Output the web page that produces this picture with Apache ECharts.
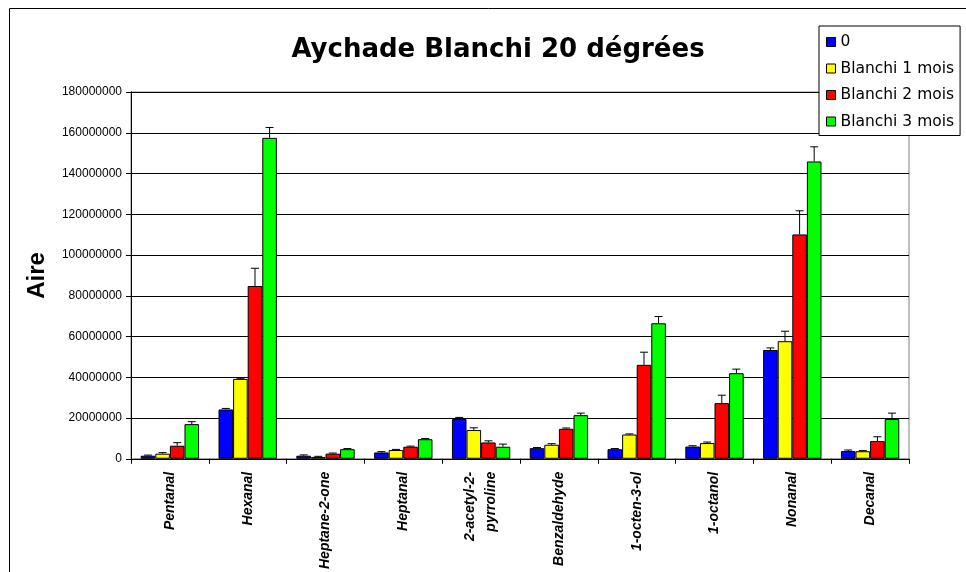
<!DOCTYPE html>
<html>
<head>
<meta charset="utf-8">
<script src="https://cdn.jsdelivr.net/npm/echarts@6/dist/echarts.min.js"></script>
<style>
  html, body { margin: 0; padding: 0; background: #fff; }
  #chart { width: 966px; height: 572px; }
</style>
</head>
<body>
<div id="chart"></div>
<script>
// categories and values
var categories = ['Pentanal', 'Hexanal', 'Heptane-2-one', 'Heptanal', '2-acetyl-2-\npyrroline',
  'Benzaldehyde', '1-octen-3-ol', '1-octanol', 'Nonanal', 'Decanal']
var seriesNames = ['0', 'Blanchi 1 mois', 'Blanchi 2 mois', 'Blanchi 3 mois']
var colors = ['#0000FF', '#FFFF00', '#FF0000', '#00FF00']

var s0 = [1500000, 24200000, 1500000, 3100000, 19500000, 5200000, 4700000, 6000000, 53400000, 3800000]
var s1 = [2500000, 39200000, 900000, 4300000, 14100000, 6900000, 11900000, 7700000, 57700000, 3700000]
var s2 = [6400000, 84800000, 2500000, 5900000, 8000000, 14700000, 46100000, 27300000, 110100000, 8700000]
var s3 = [17000000, 157500000, 4700000, 9600000, 5900000, 21400000, 66500000, 42000000, 145900000, 19500000]

// upper error bars
var e0 = [300000, 500000, 400000, 400000, 800000, 300000, 300000, 400000, 1000000, 500000]
var e1 = [500000, 300000, 300000, 300000, 1100000, 500000, 300000, 500000, 4900000, 300000]
var e2 = [1500000, 8700000, 300000, 300000, 800000, 400000, 6200000, 3900000, 11600000, 2100000]
var e3 = [1200000, 5100000, 300000, 300000, 1300000, 1000000, 3300000, 2000000, 7200000, 2900000]

var yTicks = { min: 0, max: 180000000, step: 20000000 }

var values = [s0, s1, s2, s3]
var errors = [e0, e1, e2, e3]

function makeBar (i) {
  return {
    name: seriesNames[i],
    type: 'bar',
    barGap: '0%',
    barCategoryGap: '25%',
    itemStyle: { color: colors[i], borderColor: '#000', borderWidth: 1 },
    data: values[i]
  }
}

function makeErr (i) {
  var data = values[i].map(function (v, k) { return [k, v, v + errors[i][k]] })
  return {
    type: 'custom',
    silent: true,
    z: 5,
    encode: { x: 0, y: [1, 2] },
    renderItem: function (params, api) {
      var k = api.value(0)
      var base = api.coord([k, api.value(1)])
      var top = api.coord([k, api.value(2)])
      var barW = api.size([1, 0])[0] * 0.75 / 4
      var x = base[0] + (i - 1.5) * barW
      var cap = 4
      return {
        type: 'group',
        children: [
          { type: 'line', shape: { x1: x, y1: base[1], x2: x, y2: top[1] }, style: { stroke: '#000', lineWidth: 1 } },
          { type: 'line', shape: { x1: x - cap, y1: top[1], x2: x + cap, y2: top[1] }, style: { stroke: '#000', lineWidth: 1 } }
        ]
      }
    },
    data: data
  }
}

var chart = echarts.init(document.getElementById('chart'))
var series = []
for (var i = 0; i < 4; i++) series.push(makeBar(i))
for (var j = 0; j < 4; j++) series.push(makeErr(j))

chart.setOption({
  backgroundColor: '#fff',
  animation: false,
  title: {
    text: 'Aychade Blanchi 20 dégrées',
    left: 493,
    top: 32,
    textAlign: 'center',
    textStyle: { fontFamily: 'DejaVu Sans', fontSize: 26, fontWeight: 'bold', color: '#000' }
  },
  graphic: [{
    type: 'rect',
    shape: { x: 9.5, y: 8.5, width: 980, height: 600 },
    style: { fill: 'none', stroke: '#000', lineWidth: 1 },
    silent: true
  }],
  legend: {
    data: seriesNames,
    orient: 'vertical',
    left: 819,
    top: 26,
    padding: [8, 6, 6, 7],
    itemGap: 10.5,
    itemWidth: 9,
    itemHeight: 9,
    icon: 'rect',
    backgroundColor: '#fff',
    borderColor: '#000',
    borderWidth: 1,
    textStyle: { fontFamily: 'DejaVu Sans', fontSize: 15.5, color: '#000' },
    itemStyle: { borderColor: '#000', borderWidth: 1 }
  },
  grid: {
    left: 131,
    right: 57,
    top: 92,
    bottom: 113,
    show: true,
    borderColor: '#808080',
    borderWidth: 1
  },
  xAxis: {
    type: 'category',
    data: categories,
    axisLine: { lineStyle: { color: '#000', width: 1 } },
    axisTick: { show: true, alignWithLabel: false, length: 5, lineStyle: { color: '#000' } },
    axisLabel: {
      rotate: 90,
      margin: 13,
      interval: 0,
      fontFamily: 'Liberation Sans',
      fontSize: 14,
      fontStyle: 'italic',
      fontWeight: 'bold',
      color: '#000',
      lineHeight: 21
    }
  },
  yAxis: {
    type: 'value',
    min: yTicks.min,
    max: yTicks.max,
    interval: yTicks.step,
    name: 'Aire',
    nameLocation: 'middle',
    nameRotate: 90,
    nameGap: 82,
    nameTextStyle: { fontFamily: 'Liberation Sans', fontSize: 24, fontWeight: 'bold', color: '#000' },
    axisLine: { show: true, lineStyle: { color: '#000', width: 1 } },
    axisTick: { show: true, length: 5, lineStyle: { color: '#000' } },
    axisLabel: {
      margin: 9,
      fontFamily: 'Liberation Sans',
      fontSize: 12,
      color: '#000',
      formatter: function (v) { return String(v) }
    },
    splitLine: { lineStyle: { color: '#000', width: 1 } }
  },
  series: series
})
</script>
</body>
</html>
